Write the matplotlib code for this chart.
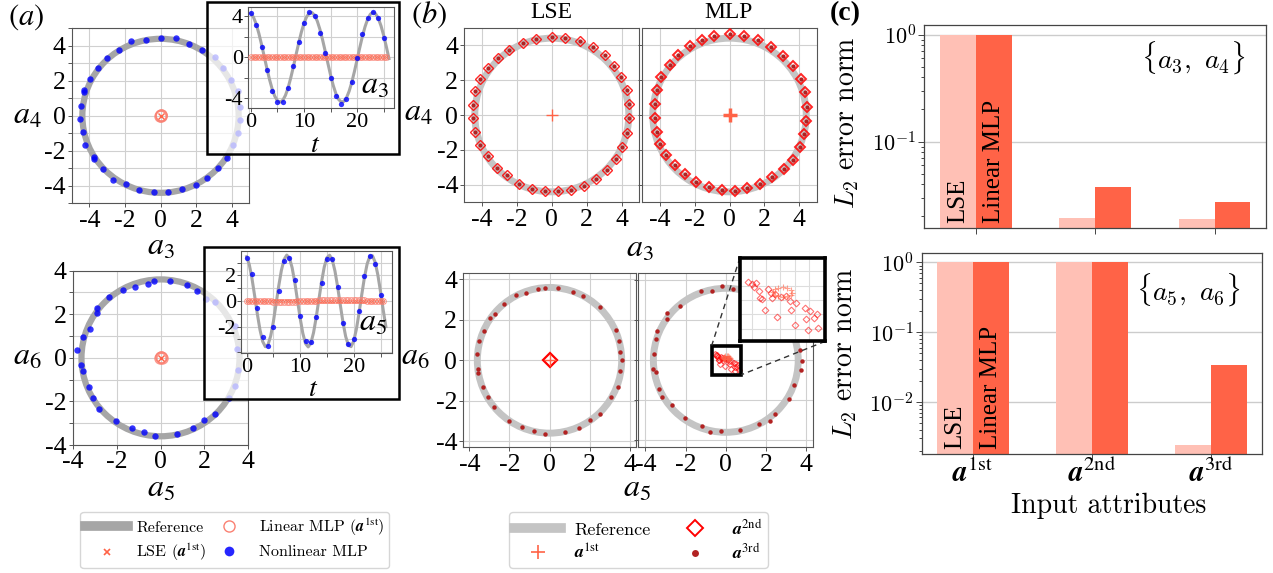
import numpy as np
import matplotlib
matplotlib.use('Agg')
import matplotlib.pyplot as plt
from matplotlib.patches import Circle, Rectangle
from matplotlib.lines import Line2D
from matplotlib.ticker import MultipleLocator, NullFormatter, FixedLocator
from mpl_toolkits.axes_grid1.inset_locator import mark_inset

plt.rcParams['font.family'] = 'Liberation Serif'
plt.rcParams['mathtext.fontset'] = 'stix'
plt.rcParams['axes.unicode_minus'] = False

# ---------------- data ----------------
# (a) reference circles (radius) and nonlinear MLP points in phase space
ref_radius_a34 = 4.4
ref_radius_a56 = 3.6

a34_nl_x = [-1.64, -0.83, 0.0, 0.87, 1.6, 2.32, 3.07, 3.51, 3.96, 4.34, 4.49, 4.45, 4.34, 4.11, 3.77, 3.25, 2.62, 1.98, 1.19, 0.4,
            -0.38, -1.21, -1.96, -2.66, -3.25, -3.72, -3.77, -4.25, -4.38, -4.53, -4.49, -4.32, -4.32, -3.98, -3.51, -3.0, -2.34]
a34_nl_y = [4.25, 4.36, 4.44, 4.42, 4.13, 3.75, 3.36, 2.71, 2.05, 1.42, 0.53, -0.23, -0.97, -1.69, -2.39, -3.0, -3.55, -3.96, -4.19, -4.34,
            -4.34, -4.23, -3.91, -3.68, -3.02, -2.49, -2.34, -1.68, -0.94, -0.19, 0.57, 1.36, 1.48, 2.08, 2.71, 3.32, 3.75]
a56_nl_x = [-0.30, 0.42, 1.20, 1.67, 2.09, 2.47, 3.38, 3.50, 3.53, 3.38, 3.12, 2.50, 2.00, 1.47, 0.77, -0.26, -0.77,
            -1.29, -2.02, -2.80, -3.06, -3.24, -3.53, -3.64, -3.82, -3.52, -3.21, -2.88, -2.88, -2.35, -1.73, -1.15, -0.55]
a56_nl_y = [3.51, 3.53, 3.36, 3.08, 2.72, 2.56, 1.48, 0.41, -0.58, -1.27, -1.86, -2.60, -2.87, -3.22, -3.48, -3.60, -3.40,
            -3.22, -2.90, -2.37, -1.85, -1.34, -0.61, -0.35, 0.37, 0.95, 1.33, 2.06, 2.29, 2.81, 3.13, 3.27, 3.39]
lin_origin_x = [0.0, 0.05, -0.04, 0.02]
lin_origin_y = [0.03, -0.02, 0.0, 0.04]
lse_origin_x = [0.0]
lse_origin_y = [0.0]

# (a) insets: time series
t_ref = [0, 0.5, 1, 1.5, 2, 2.5, 3, 3.5, 4, 4.5, 5, 5.5, 6, 6.5, 7, 7.5, 8, 8.5, 9, 9.5, 10, 10.5, 11, 11.5, 12, 12.5,
         13, 13.5, 14, 14.5, 15, 15.5, 16, 16.5, 17, 17.5, 18, 18.5, 19, 19.5, 20, 20.5, 21, 21.5, 22, 22.5, 23, 23.5,
         24, 24.5, 25, 25.5, 26]
a3_ref = [4.31, 3.92, 3.25, 2.34, 1.27, 0.11, -1.06, -2.16, -3.10, -3.82, -4.26, -4.40, -4.22, -3.74, -3.00, -2.03,
          -0.93, 0.25, 1.40, 2.46, 3.34, 3.98, 4.34, 4.38, 4.11, 3.55, 2.73, 1.71, 0.58, -0.60, -1.74, -2.75, -3.56,
          -4.12, -4.38, -4.33, -3.97, -3.32, -2.44, -1.38, -0.22, 0.95, 2.06, 3.01, 3.76, 4.23, 4.40, 4.25, 3.80, 3.08,
          2.14, 1.04, -0.13]
a5_ref = [3.48, 2.86, 1.78, 0.42, -1.00, -2.26, -3.17, -3.58, -3.43, -2.74, -1.62, -0.24, 1.18, 2.41, 3.26, 3.60,
          3.37, 2.61, 1.45, 0.05, -1.35, -2.54, -3.33, -3.60, -3.30, -2.48, -1.27, 0.13, 1.52, 2.67, 3.40, 3.59, 3.22,
          2.34, 1.10, -0.32, -1.69, -2.79, -3.46, -3.58, -3.14, -2.20, -0.92, 0.50, 1.85, 2.90, 3.50, 3.55, 3.04, 2.05,
          0.74, -0.69, -2.01]
t_pts = [0, 1, 2, 3, 4, 5, 6, 7, 8, 9, 10, 11, 12, 13, 14, 15, 16, 17, 18, 19, 20, 21, 22, 23, 24, 25]
a3_nl = [4.33, 3.15, 1.05, -1.28, -3.28, -4.43, -4.43, -3.0, -0.85, 1.48, 3.38, 4.4, 4.07, 2.36, 0.39, -2.03,
         -3.77, -4.59, -4.07, -2.39, -0.1, 2.26, 3.84, 4.4, 3.84, 1.93]
a5_nl = [3.40, 2.10, -0.57, -2.86, -3.50, -2.00, 0.78, 3.12, 3.40, 1.64, -1.17, -3.17, -3.19, -1.27, 1.43, 3.32,
         3.32, 1.09, -1.74, -3.35, -2.99, -0.78, 1.95, 3.53, 2.88, 0.47]
a3_lin = [0.0, 0.0, 0.01, 0.0, 0.0, -0.01, 0.0, 0.0, 0.0, 0.01, 0.0, 0.0, 0.0, -0.01, 0.0, 0.0, 0.0, 0.0, 0.01,
          0.0, 0.0, 0.0, 0.0, -0.01, 0.0, 0.0, 0.0, 0.0, 0.01, 0.0, 0.0, 0.0, 0.0, 0.0, -0.01, 0.0, 0.0, 0.0, 0.0,
          0.01, 0.0, 0.0, 0.0, 0.0, 0.0, -0.01, 0.0, 0.0, 0.0, 0.0, 0.0, 0.0]
a5_lin = [0.0, 0.0, -0.01, -0.01, -0.02, -0.02, -0.02, -0.03, -0.03, -0.03, -0.04, -0.04, -0.04, -0.05, -0.05,
          -0.05, -0.05, -0.04, -0.04, -0.03, -0.03, -0.02, -0.01, 0.0, 0.01, 0.02, 0.03, 0.04, 0.05, 0.06, 0.07, 0.08,
          0.08, 0.09, 0.09, 0.09, 0.09, 0.08, 0.08, 0.07, 0.07, 0.06, 0.05, 0.04, 0.04, 0.03, 0.02, 0.02, 0.01, 0.01,
          0.0, 0.0]
lse_zero = [0.0, 0.0, 0.0, 0.0, 0.0, 0.0, 0.0, 0.0, 0.0, 0.0, 0.0, 0.0, 0.0, 0.0, 0.0, 0.0, 0.0, 0.0, 0.0, 0.0,
            0.0, 0.0, 0.0, 0.0, 0.0, 0.0, 0.0, 0.0, 0.0, 0.0, 0.0, 0.0, 0.0, 0.0, 0.0, 0.0, 0.0, 0.0, 0.0, 0.0,
            0.0, 0.0, 0.0, 0.0, 0.0, 0.0, 0.0, 0.0, 0.0, 0.0, 0.0, 0.0]

# (b) phase-space predictions
b34_lse_x = [0.0, 0.76, 1.60, 2.34, 3.05, 3.58, 3.96, 4.27, 4.40, 4.40, 4.30, 4.02, 3.64, 3.14, 2.53, 1.83, 1.07, 0.36,
             -0.38, -1.14, -1.85, -2.55, -3.14, -3.66, -4.10, -4.36, -4.51, -4.51, -4.36, -4.13, -3.66, -3.09, -2.42,
             -1.66, -0.90]
b34_lse_y = [4.44, 4.40, 4.21, 3.87, 3.43, 2.82, 2.15, 1.43, 0.63, -0.19, -1.03, -1.81, -2.51, -3.14, -3.66, -4.04,
             -4.29, -4.38, -4.38, -4.25, -3.94, -3.41, -3.03, -2.36, -1.70, -0.99, -0.19, 0.57, 1.35, 2.06, 2.72, 3.26,
             3.75, 4.11, 4.36]
b34_mlp_x = [0.0, -0.87, -1.58, -2.28, -2.93, -3.44, -3.90, -4.18, -4.30, -4.30, -4.18, -4.01, -3.63, -3.12, -2.57,
             -1.94, -1.20, -0.44, 0.32, 1.03, 1.75, 2.45, 3.12, 3.65, 4.03, 4.28, 4.41, 4.45, 4.32, 4.09, 3.65, 3.04,
             2.36, 1.62, 0.86]
b34_mlp_y = [4.62, 4.54, 4.30, 3.95, 3.42, 2.87, 2.19, 1.43, 0.63, -0.19, -0.95, -1.65, -2.28, -2.85, -3.37, -3.84,
             -4.13, -4.32, -4.35, -4.18, -3.94, -3.56, -3.08, -2.57, -1.84, -1.08, -0.36, 0.48, 1.29, 2.05, 2.78, 3.38,
             3.90, 4.28, 4.52]
b56_lse_x = [-0.20, 0.42, 1.18, 1.67, 2.50, 3.30, 3.48, 3.52, 3.60, 3.50, 3.40, 3.08, 2.50, 2.00, 1.47, 0.77, -0.23,
             -0.75, -1.37, -2.03, -2.75, -3.08, -3.32, -3.57, -3.57, -3.60, -3.50, -3.27, -2.95, -2.73, -2.27, -1.67,
             -1.15, -0.57]
b56_lse_y = [3.55, 3.55, 3.40, 3.17, 2.62, 1.50, 0.97, 0.42, 0.0, -0.55, -1.30, -1.83, -2.63, -2.97, -3.33, -3.55,
             -3.62, -3.50, -3.28, -3.00, -2.33, -1.83, -1.33, -0.62, -0.42, 0.33, 0.97, 1.45, 2.08, 2.28, 2.80, 3.22,
             3.35, 3.53]
b56_mlp_x = [-1.21, -0.67, -0.17, 0.34, 3.70, 3.78, 3.74, 3.41, 3.14, 2.47, 2.18, 1.63, 0.72, -0.25, -0.77, -1.17,
             -2.01, -2.68, -3.19, -3.32, -3.47, -3.64, -3.57, -3.47, -3.44, -2.92, -2.90, -2.27]
b56_mlp_y = [3.49, 3.49, 3.72, 3.57, 0.50, -0.02, -0.49, -1.24, -1.95, -2.68, -3.01, -3.17, -3.50, -3.52, -3.60,
             -3.27, -2.86, -2.24, -1.82, -1.41, -0.58, -0.45, 0.34, 1.06, 1.46, 2.05, 2.35, 2.72]
b56_mlp2_x = [-0.56, -0.50, -0.42, -0.46, -0.37, -0.36, -0.32, -0.27, -0.17, -0.14, -0.05, 0.01, 0.09, 0.16, 0.19,
              0.25, 0.28, 0.42, 0.45, 0.48, 0.52, 0.58, 0.63, 0.65, -0.09, -0.22]
b56_mlp2_y = [0.31, 0.27, 0.29, 0.22, 0.16, 0.04, 0.01, -0.17, 0.13, 0.04, -0.30, 0.05, 0.07, -0.02, -0.18, -0.44,
              -0.05, -0.14, -0.33, -0.52, -0.20, -0.31, -0.25, -0.49, 0.10, 0.19]
b56_mlp1_x = [-0.13, -0.10, -0.04, 0.04, 0.12, 0.18, 0.21, 0.18, 0.12, 0.04, -0.04, -0.10]
b56_mlp1_y = [0.14, 0.19, 0.21, 0.22, 0.21, 0.18, 0.13, 0.08, 0.07, 0.06, 0.07, 0.09]

# (c) L2 error norms
c_labels = [r'$\mathbfit{a}^{\mathrm{1st}}$', r'$\mathbfit{a}^{\mathrm{2nd}}$', r'$\mathbfit{a}^{\mathrm{3rd}}$']
c34_lse = [1.0, 0.0192, 0.0190]
c34_mlp = [1.0, 0.0374, 0.0273]
c56_lse = [1.0, 1.0, 0.0024]
c56_mlp = [1.0, 1.0, 0.0343]

# ---------------- figure ----------------
W, H = 1273, 573
fig = plt.figure(figsize=(W / 100, H / 100), dpi=100)

GRAY_A = '#a6a6a6'
GRAY_B = '#c4c4c4'
SALMON = '#fa8072'
TOMATO = '#ff6347'
SPINE = '#555555'
TICK = 18.5
LAB = 23


def add_ax(l, t, r, b, **kw):
    return fig.add_axes([l / W, 1 - b / H, (r - l) / W, (b - t) / H], **kw)


def ftext(x, y, s, **kw):
    kw.setdefault('ha', 'center')
    kw.setdefault('va', 'center')
    return fig.text(x / W, 1 - y / H, s, **kw)


def style(ax, size=TICK):
    for sp in ax.spines.values():
        sp.set_color(SPINE)
        sp.set_linewidth(0.8)
    ax.tick_params(which='both', direction='out', length=3, width=0.7, color=SPINE, labelsize=size, pad=1.5)
    ax.grid(True, which='both', color='#d0d0d0', lw=0.8)
    ax.set_axisbelow(True)


def phase_panel(l, t, r, b, lim, radius, xs, ys):
    ax = add_ax(l, t, r, b)
    style(ax)
    ax.set_xlim(-lim, lim)
    ax.set_ylim(-lim, lim)
    ax.set_xticks([-4, -2, 0, 2, 4])
    ax.set_yticks([-4, -2, 0, 2, 4])
    ax.yaxis.set_minor_locator(MultipleLocator(1))
    ax.add_patch(Circle((0, 0), radius, fill=False, ec=GRAY_A, lw=4.5, zorder=2))
    ax.plot(xs, ys, 'o', color='blue', alpha=0.8, ms=4.6, mew=0, zorder=4)
    ax.plot(lin_origin_x, lin_origin_y, 'o', mfc='none', mec=SALMON, ms=8, mew=1.0, alpha=0.8, zorder=5)
    ax.plot(lse_origin_x, lse_origin_y, 'x', color=TOMATO, ms=5, mew=1.0, zorder=6)
    return ax


def time_inset(frame, box, xlim, ylim, ref, nl, lin, yminor, label, label_xy, t_xy):
    l, t, r, b = frame
    fig.add_artist(Rectangle((l / W, 1 - b / H), (r - l) / W, (b - t) / H, transform=fig.transFigure,
                             facecolor=(1, 1, 1, 0.72), edgecolor='black', lw=1.8, zorder=1))
    ax = add_ax(*box, zorder=2)
    style(ax, size=16)
    ax.tick_params(pad=0.5)
    ax.set_xlim(*xlim)
    ax.set_ylim(*ylim)
    ax.xaxis.set_major_locator(FixedLocator([0, 10, 20]))
    ax.xaxis.set_minor_locator(FixedLocator([5, 15, 25]))
    ax.yaxis.set_minor_locator(MultipleLocator(yminor))
    ax.plot(t_ref, ref, color=GRAY_A, lw=2.2, zorder=2)
    ax.plot(t_ref[:52], lin, 'o', mfc='none', mec=SALMON, ms=4.2, mew=0.7, alpha=0.75, zorder=3)
    ax.plot(t_ref[:52], lse_zero, 'x', color=TOMATO, ms=3, mew=0.6, alpha=0.7, zorder=3)
    ax.plot(t_pts, nl, 'o', color='blue', alpha=0.8, ms=3.8, mew=0, zorder=4)
    ftext(*label_xy, label, fontsize=LAB)
    ftext(*t_xy, '$t$', fontsize=20)
    return ax


# ---- panel (a) ----
phase_panel(71.7, 28.3, 249.3, 203.3, 5, ref_radius_a34, a34_nl_x, a34_nl_y)
phase_panel(72.7, 270.7, 248.3, 445, 4, ref_radius_a56, a56_nl_x, a56_nl_y)
time_inset((206.7, 2, 399, 154), (247.7, 7.3, 394.3, 108.3), (-0.6, 27), (-5.0, 4.9),
           a3_ref, a3_nl, a3_lin, 2, '$a_3$', (375, 86), (315, 146)).set_yticks([-4, 0, 4])
time_inset((204, 246.7, 399, 399), (240.7, 251, 392.3, 353.3), (-1.1, 27.2), (-4.1, 3.92),
           a5_ref, a5_nl, a5_lin, 1, '$a_5$', (373, 323), (313, 390)).set_yticks([-2, 0, 2])

ftext(26, 17, '$(a)$', fontsize=22)
ftext(27, 116, '$a_4$', fontsize=LAB)
ftext(160.7, 247, '$a_3$', fontsize=LAB)
ftext(27, 357, '$a_6$', fontsize=LAB)
ftext(160.7, 489, '$a_5$', fontsize=LAB)

leg_prop = {'family': 'cmr10', 'size': 11.5, 'math_fontfamily': 'stix'}
hA = [Line2D([], [], color=GRAY_A, lw=7),
      Line2D([], [], marker='x', ls='none', color=TOMATO, ms=5, mew=1.2),
      Line2D([], [], marker='o', ls='none', mfc='none', mec=SALMON, ms=8, mew=1.0),
      Line2D([], [], marker='o', ls='none', color='blue', alpha=0.85, ms=7, mew=0)]
lA = ['Reference', r'LSE ($\mathbfit{a}^{\mathrm{1st}}$)', r'Linear MLP ($\mathbfit{a}^{\mathrm{1st}}$)', 'Nonlinear MLP']
fig.legend(hA, lA, ncol=2, loc='center', bbox_to_anchor=(234.8 / W, 1 - 540 / H), prop=leg_prop,
           frameon=True, fancybox=True, edgecolor='#cccccc', handlelength=2.7, columnspacing=0.1,
           borderpad=0.3, labelspacing=0.45, handletextpad=0.5)

# ---- panel (b) ----
def b_panel(l, t, r, b, lim, radius, ylabels=True):
    ax = add_ax(l, t, r, b)
    style(ax)
    ax.grid(True, which='major', color='#d0d0d0', lw=0.8)
    ax.set_xlim(-lim, lim)
    ax.set_ylim(-lim, lim)
    ax.set_xticks([-4, -2, 0, 2, 4])
    ax.set_yticks([-4, -2, 0, 2, 4])
    if not ylabels:
        ax.tick_params(labelleft=False)
    ax.add_patch(Circle((0, 0), radius, fill=False, ec=GRAY_B, lw=5, zorder=2))
    return ax


ax = b_panel(464.3, 27.7, 639.3, 202.3, 5, ref_radius_a34)
ax.plot(b34_lse_x, b34_lse_y, 'D', mfc='none', mec='red', ms=5.5, mew=1.0, alpha=0.85, zorder=4)
ax.plot(b34_lse_x, b34_lse_y, 'o', color='firebrick', ms=3, mew=0, zorder=5)
ax.plot([0], [0], '+', color=TOMATO, ms=9, mew=1.0, zorder=5)
ax = b_panel(642.3, 27.7, 816.7, 202.3, 5, ref_radius_a34, ylabels=False)
ax.plot(b34_mlp_x, b34_mlp_y, 'D', mfc='none', mec='red', ms=5.5, mew=1.4, alpha=0.85, zorder=4)
ax.plot(b34_mlp_x, b34_mlp_y, 'o', color='firebrick', ms=3, mew=0, zorder=5)
ax.plot([0], [0], '+', color=TOMATO, ms=10, mew=2.5, zorder=5)

ax = b_panel(463.3, 273.3, 635.7, 447.3, 4.3, ref_radius_a56)
ax.plot(b56_lse_x, b56_lse_y, 'o', color='firebrick', ms=3.2, mew=0, zorder=5)
ax.plot([0], [0], 'D', mfc='none', mec='red', ms=7, mew=1.6, zorder=4)
ax.plot([0], [0], '+', color=TOMATO, ms=9, mew=1.0, zorder=5)
axm = b_panel(638.3, 273.3, 813.3, 447.3, 4.35, ref_radius_a56, ylabels=False)
axm.plot(b56_mlp_x, b56_mlp_y, 'o', color='firebrick', ms=3.2, mew=0, zorder=5)
axm.plot(b56_mlp2_x, b56_mlp2_y, 'D', mfc='none', mec='red', ms=3.2, mew=0.8, alpha=0.55, zorder=4)
axm.plot(b56_mlp1_x, b56_mlp1_y, '+', color=TOMATO, ms=4, mew=0.8, alpha=0.6, zorder=5)

axz = add_ax(740, 257.5, 825.3, 341.3, zorder=3)
axz.set_facecolor('white')
axz.set_xlim(-0.7, 0.78)
axz.set_ylim(-0.72, 0.74)
axz.set_xticks([-0.5, -0.25, 0, 0.25, 0.5])
axz.set_yticks([-0.5, -0.25, 0, 0.25, 0.5])
axz.tick_params(labelleft=False, labelbottom=False, length=0)
axz.grid(True, color='#dddddd', lw=0.8)
for sp in axz.spines.values():
    sp.set_linewidth(2.6)
    sp.set_color('black')
axz.plot(b56_mlp2_x, b56_mlp2_y, 'D', mfc='none', mec='red', ms=3.4, mew=0.8, alpha=0.55)
axz.plot(b56_mlp1_x, b56_mlp1_y, '+', color=TOMATO, ms=4, mew=0.8, alpha=0.6)
pp, p1, p2 = mark_inset(axm, axz, loc1=2, loc2=4, fc='none', ec='black', lw=1.0)
pp.set_linewidth(2.6)
pp.set_zorder(6)
for p in (p1, p2):
    p.set_linestyle((0, (4, 3)))
    p.set_color('#333333')

ftext(429, 15, '$(b)$', fontsize=22)
ftext(551.7, 13, 'LSE', fontsize=17)
ftext(728.5, 13, 'MLP', fontsize=17)
ftext(418.3, 113, '$a_4$', fontsize=LAB)
ftext(640, 249, '$a_3$', fontsize=LAB)
ftext(415, 357, '$a_6$', fontsize=LAB)
ftext(637, 489, '$a_5$', fontsize=LAB)

hB = [Line2D([], [], color=GRAY_B, lw=7),
      Line2D([], [], marker='+', ls='none', color=TOMATO, ms=10, mew=1.2),
      Line2D([], [], marker='D', ls='none', mfc='none', mec='red', ms=8, mew=1.4),
      Line2D([], [], marker='o', ls='none', color='firebrick', ms=5, mew=0)]
lB = ['Reference', r'$\mathbfit{a}^{\mathrm{1st}}$', r'$\mathbfit{a}^{\mathrm{2nd}}$', r'$\mathbfit{a}^{\mathrm{3rd}}$']
leg_propB = {'family': 'cmr10', 'size': 13, 'math_fontfamily': 'stix'}
fig.legend(hB, lB, ncol=2, loc='center', bbox_to_anchor=(638.3 / W, 1 - 540 / H), prop=leg_propB,
           frameon=True, fancybox=True, edgecolor='#cccccc', handlelength=2.6, columnspacing=1.2,
           borderpad=0.3, labelspacing=0.25, handletextpad=0.7)

# ---- panel (c) ----
LSE_C = '#ffc0b5'


def c_panel(l, t, r, b, lse, mlp, ylim, yticks, show_x):
    ax = add_ax(l, t, r, b)
    ax.set_yscale('log')
    x = np.arange(len(lse))
    ax.bar(x - 0.15, lse, 0.3, color=LSE_C, zorder=2)
    ax.bar(x + 0.15, mlp, 0.3, color=TOMATO, zorder=2)
    ax.set_ylim(*ylim)
    for sp in ax.spines.values():
        sp.set_color('#444444')
        sp.set_linewidth(0.9)
    ax.set_yticks(yticks)
    ax.yaxis.set_minor_formatter(NullFormatter())
    ax.grid(True, axis='y', which='major', color='#cccccc', lw=1.0)
    ax.set_axisbelow(True)
    ax.tick_params(which='both', direction='out', color='#444444', width=0.7, labelsize=16, pad=2)
    ax.tick_params(which='major', length=4)
    ax.tick_params(which='minor', length=2.5)
    for lbl in ax.get_yticklabels():
        lbl.set_math_fontfamily('cm')
        lbl.set_family('cmr10')
    ax.set_xticks(x)
    if show_x:
        ax.set_xticklabels(c_labels, fontsize=21)
        ax.tick_params(axis='x', pad=0)
    else:
        ax.set_xticklabels(['', '', ''])
    tr = ax.get_xaxis_transform()
    ax.text(-0.15, 0.025, 'LSE', rotation=90, ha='center', va='bottom', fontsize=18, transform=tr, zorder=3)
    ax.text(0.15, 0.025, 'Linear MLP', rotation=90, ha='center', va='bottom', fontsize=18, transform=tr, zorder=3)
    return ax


c_panel(924.3, 25, 1266, 227.7, c34_lse, c34_mlp, (0.0157, 1.23), [0.1, 1], False)
c_panel(922, 253.3, 1262.3, 454.3, c56_lse, c56_mlp, (0.00178, 1.35), [0.01, 0.1, 1], True)

ftext(845, 14, '(c)', fontsize=20, weight='bold')
ftext(846.7, 122.5, r'$L_2$ error norm', fontsize=20, rotation=90, family='cmr10', math_fontfamily='cm')
ftext(845, 353.3, r'$L_2$ error norm', fontsize=20, rotation=90, family='cmr10', math_fontfamily='cm')
ftext(1108.3, 506, 'Input attributes', fontsize=20, family='cmr10')
ftext(1193.3, 58.3, r'$\{a_3,\ a_4\}$', fontsize=20, math_fontfamily='cm')
ftext(1188.3, 290, r'$\{a_5,\ a_6\}$', fontsize=20, math_fontfamily='cm')

fig.savefig('out.png', dpi=100)
